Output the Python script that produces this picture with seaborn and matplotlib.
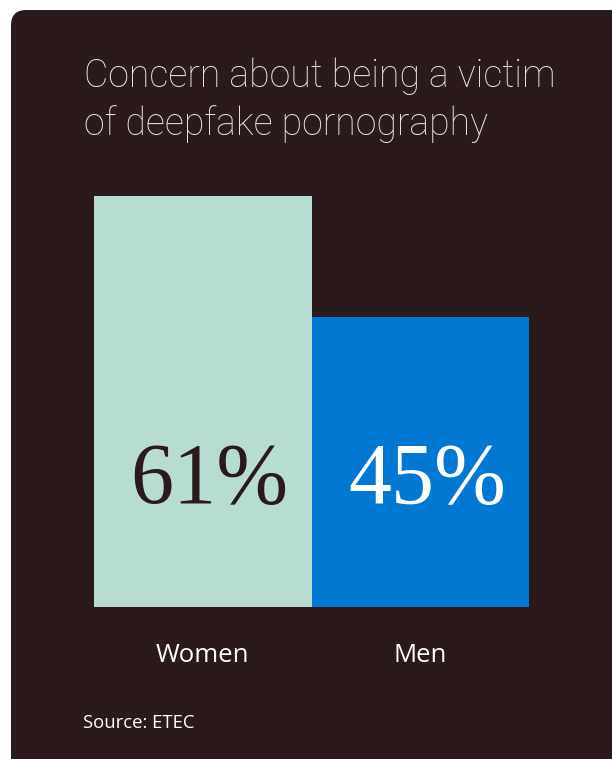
import matplotlib
matplotlib.use("Agg")
import matplotlib.pyplot as plt
import matplotlib.transforms as mtransforms
import seaborn as sns
import pandas as pd
from matplotlib.patches import FancyBboxPatch

categories = ["Women", "Men"]
values = [61, 45]
value_labels = ["61%", "45%"]
bar_colors = ["#b8dcd2", "#0078d4"]
label_colors = ["#2a1a1b", "#ffffff"]
title_lines = ["Concern about being a victim", "of deepfake pornography"]
source = "Source: ETEC"

BG = "#2a1a1b"
W, H = 612, 759
fig = plt.figure(figsize=(W / 100, H / 100), dpi=100)
fig.patch.set_facecolor("white")

# rounded dark card
card = FancyBboxPatch((11 / W, -20 / H), (W + 40) / W, (H + 20 - 10) / H,
                      boxstyle="round,pad=0,rounding_size=0.025",
                      transform=fig.transFigure, facecolor=BG, edgecolor="none",
                      mutation_aspect=W / H, zorder=-5)
fig.patches.append(card)

ax = fig.add_axes([94 / W, (H - 607) / H, 435 / W, 411 / H])
ax.set_zorder(2)
ax.set_facecolor("none")
df = pd.DataFrame({"cat": categories, "val": values})
sns.barplot(data=df, x="cat", y="val", hue="cat", palette=bar_colors,
            width=1.0, legend=False, ax=ax, saturation=1)
ax.set_xlim(-0.5, 1.5)
ax.set_ylim(6.65, 61)
for s in ax.spines.values():
    s.set_visible(False)
ax.set_yticks([])
ax.set_xlabel("")
ax.set_ylabel("")
ax.tick_params(axis="x", length=0, pad=26, colors="white", labelsize=18.5)
for lab in ax.get_xticklabels():
    lab.set_fontfamily("Open Sans")

# value labels
tr = mtransforms.blended_transform_factory(ax.transData, fig.transFigure)
tr = tr + mtransforms.ScaledTranslation(7 / 100, 0, fig.dpi_scale_trans)
for i, (lbl, c) in enumerate(zip(value_labels, label_colors)):
    ax.text(i, (H - 503) / H, lbl, transform=tr, color=c,
            ha="center", va="baseline", fontsize=62, family="Liberation Serif",
            fontweight="light")

for j, (line, yb) in enumerate(zip(title_lines, [87, 135])):
    fig.text(84 / W, (H - yb) / H, line, color="#e8e2e2", fontsize=27,
             family="Roboto", fontweight="light", ha="left", va="baseline")
fig.text(83 / W, (H - 723) / H, source, color="white", fontsize=13.3,
         family="Open Sans", ha="left", va="center")

fig.savefig("out.png", dpi=100, facecolor=fig.get_facecolor())
